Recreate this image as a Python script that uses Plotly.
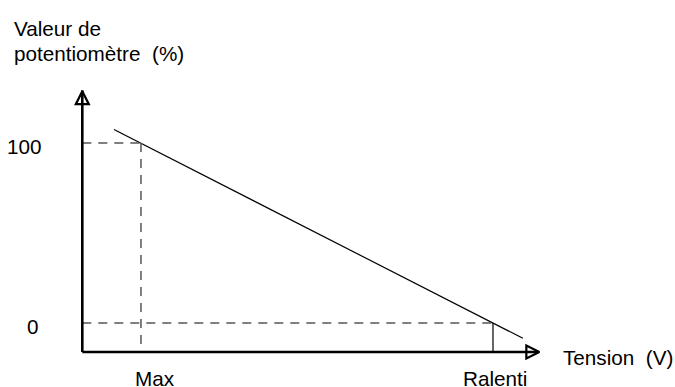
import plotly.graph_objects as go

# Data (arbitrary voltage units; percentage values)
line_x = [0.54, 7.51]
line_y = [107.5, -8.5]
x_marks = [1, 7]
x_labels = ["Max", "Ralenti"]
y_marks = [0, 100]
y_labels = ["0", "100"]
x_axis_max = 7.92
y_axis_max = 133.3
y_axis_min = -16.1

W, H = 675, 387
# pixel <-> data mapping
X0PX, XSC = 82.3, 58.67
Y0PX, YSC = 323.0, 1.8
xr = [(0 - X0PX) / XSC, (W - X0PX) / XSC]
yr = [(Y0PX - H) / YSC, Y0PX / YSC]

def dx(p):
    return (p - X0PX) / XSC

def dy(p):
    return (Y0PX - p) / YSC

fig = go.Figure()
font = dict(family="Liberation Sans, Arial, sans-serif", size=20.7, color="black")

# dashed guides
dash = dict(color="#555555", width=1.5, dash="9px,7px")
fig.add_shape(type="line", x0=0, x1=x_marks[0], y0=y_marks[1], y1=y_marks[1], line=dash)
fig.add_shape(type="line", x0=x_marks[0], x1=x_marks[0], y0=y_marks[1], y1=y_axis_min, line=dash)
fig.add_shape(type="line", x0=0, x1=x_marks[1], y0=y_marks[0], y1=y_marks[0], line=dash)
fig.add_shape(type="line", x0=x_marks[1], x1=x_marks[1], y0=y_marks[0], y1=y_axis_min,
              line=dict(color="black", width=1.2))

# main line
fig.add_trace(go.Scatter(x=line_x, y=line_y, mode="lines",
                         line=dict(color="black", width=1.2), hoverinfo="skip"))

# axes
axis = dict(color="black", width=2.6)
fig.add_shape(type="line", x0=0, x1=0, y0=y_axis_min, y1=y_axis_max - 4, line=axis)
fig.add_shape(type="line", x0=0, x1=x_axis_max - 0.15, y0=y_axis_min, y1=y_axis_min, line=axis)
fig.add_trace(go.Scatter(x=[0], y=[y_axis_max - 4.5], mode="markers",
                         marker=dict(symbol="arrow-up", size=13, color="white",
                                     line=dict(color="black", width=2.2)), hoverinfo="skip"))
fig.add_trace(go.Scatter(x=[x_axis_max - 0.13], y=[y_axis_min], mode="markers",
                         marker=dict(symbol="arrow-right", size=13, color="white",
                                     line=dict(color="black", width=2.2)), hoverinfo="skip"))

# labels
y_lab_right = [41, 44]
for v, t, r in zip(y_marks, y_labels, y_lab_right):
    fig.add_annotation(x=dx(r), y=v - 2.2 / YSC * 1.8, text=t, showarrow=False,
                       xanchor="right", yanchor="middle", font=font)
x_lab_center = [155, 495]
for c, t in zip(x_lab_center, x_labels):
    fig.add_annotation(x=dx(c), y=dy(378), text=t, showarrow=False, xanchor="center",
                       yanchor="middle", font=font)
fig.add_annotation(x=dx(561), y=dy(357), text="Tension  (V)", showarrow=False,
                   xanchor="left", yanchor="middle", font=font)
fig.add_annotation(x=dx(12), y=dy(28), text="Valeur de", showarrow=False,
                   xanchor="left", yanchor="middle", font=font)
fig.add_annotation(x=dx(12), y=dy(53), text="potentiomètre  (%)", showarrow=False,
                   xanchor="left", yanchor="middle", font=font)

fig.update_layout(
    width=W, height=H, margin=dict(l=0, r=0, t=0, b=0),
    paper_bgcolor="white", plot_bgcolor="white", showlegend=False,
    xaxis=dict(range=xr, visible=False, fixedrange=True),
    yaxis=dict(range=yr, visible=False, fixedrange=True),
)
fig.write_html("out.html", config={"displayModeBar": False},
               post_script="document.body.style.margin='0';")
